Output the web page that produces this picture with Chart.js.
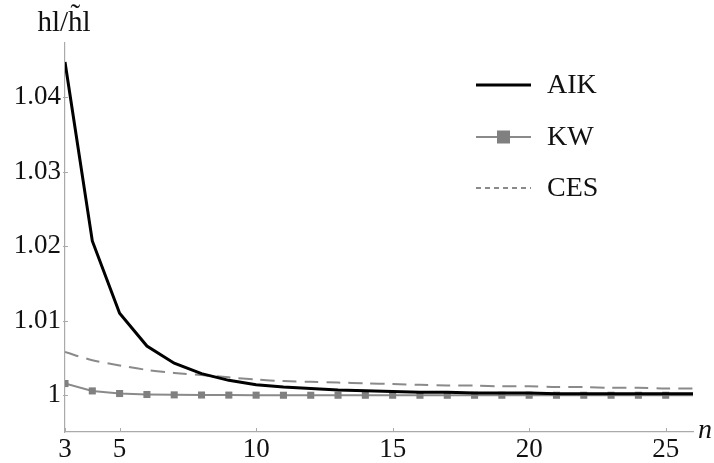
<!DOCTYPE html>
<html>
<head>
<meta charset="utf-8">
<script src="https://cdn.jsdelivr.net/npm/chart.js@4/dist/chart.umd.min.js"></script>
<style>
  html, body { margin: 0; padding: 0; background: #fff; }
  #wrap { width: 714px; height: 463px; position: relative; }
</style>
</head>
<body>
<div id="wrap"><canvas id="c" width="714" height="463"></canvas></div>
<script>
const nValues = [3,4,5,6,7,8,9,10,11,12,13,14,15,16,17,18,19,20,21,22,23,24,25,26];
const aik = [1.0447,1.0207,1.0110,1.0066,1.0043,1.0029,1.0020,1.0014,1.0011,1.0009,1.0007,1.0006,1.0005,1.0004,1.0004,1.0003,1.0003,1.0003,1.0002,1.0002,1.0002,1.0002,1.0002,1.0002];
const kw = [1.00157,1.00058,1.00023,1.0001,1.00005,1.00003,1.00002,1.00001,1.0,1.0,1.0,1.0,1.0,1.0,1.0,1.0,1.0,1.0,1.0,1.0,1.0,1.0,1.0,1.0];
const ces = [1.0058,1.0047,1.0040,1.0034,1.0030,1.0027,1.0024,1.0021,1.0019,1.0018,1.0017,1.0016,1.0015,1.0014,1.0013,1.0013,1.0012,1.0012,1.0011,1.0011,1.0010,1.0010,1.0009,1.0009];
const xTicks = [3,5,10,15,20,25];
const yTicks = [1,1.01,1.02,1.03,1.04];
const seriesNames = ["AIK","KW","CES"];

const FONT = '"Liberation Serif", "Times New Roman", "DejaVu Serif", serif';

function pts(ys) {
    return nValues.map((n, i) => ({ x: n, y: ys[i] }));
}

// markers on KW only up to n = 25
const kwRadius = nValues.map(n => n <= 25 ? 5 : 0);

const extras = {
    id: "extras",
    afterDraw(chart) {
        const ctx = chart.ctx;
        const xs = chart.scales.x, ys = chart.scales.y;
        const area = chart.chartArea;
        ctx.save();
        // small inside tick marks
        ctx.strokeStyle = "#aaa";
        ctx.lineWidth = 1;
        xTicks.forEach(v => {
            const px = Math.round(xs.getPixelForValue(v)) + 0.5;
            ctx.beginPath();
            ctx.moveTo(px, area.bottom);
            ctx.lineTo(px, area.bottom - 4);
            ctx.stroke();
        });
        yTicks.forEach(v => {
            const py = Math.round(ys.getPixelForValue(v)) + 0.5;
            ctx.beginPath();
            ctx.moveTo(area.left - 2, py);
            ctx.lineTo(area.left + 3, py);
            ctx.stroke();
        });

        // axis titles
        ctx.fillStyle = "#111";
        ctx.font = "29px " + FONT;
        ctx.textAlign = "center";
        ctx.textBaseline = "alphabetic";
        ctx.fillText("hl/h\u0303l", 64, 31);
        ctx.font = "italic 28px " + FONT;
        ctx.textAlign = "left";
        ctx.fillText("n", 698, 438);

        // legend
        const ds = chart.data.datasets;
        const rowsY = [85, 137, 188];
        const x0 = 476, x1 = 531;
        ds.forEach((d, i) => {
            const y = rowsY[i];
            ctx.strokeStyle = d.borderColor;
            ctx.lineWidth = d.borderWidth;
            ctx.setLineDash(i === 2 ? [5, 4] : []);
            ctx.beginPath();
            ctx.moveTo(x0, y);
            ctx.lineTo(x1, y);
            ctx.stroke();
            ctx.setLineDash([]);
            if (i === 1) {
                ctx.fillStyle = d.pointBackgroundColor;
                ctx.fillRect((x0 + x1) / 2 - 6.5, y - 6.5, 13, 13);
            }
            ctx.fillStyle = "#111";
            ctx.font = "28px " + FONT;
            ctx.textAlign = "left";
            ctx.textBaseline = "middle";
            ctx.fillText(seriesNames[i], 547, y + 1);
        });
        ctx.restore();
    }
};

new Chart(document.getElementById("c"), {
    type: "line",
    data: {
        datasets: [
            {
                label: seriesNames[0],
                data: pts(aik),
                borderColor: "#000",
                borderWidth: 3,
                pointRadius: 0,
                tension: 0,
                order: 1
            },
            {
                label: seriesNames[1],
                data: pts(kw),
                borderColor: "#8a8a8a",
                borderWidth: 2,
                pointStyle: "rect",
                pointRadius: kwRadius,
                pointBackgroundColor: "#808080",
                pointBorderWidth: 0,
                tension: 0,
                order: 2
            },
            {
                label: seriesNames[2],
                data: pts(ces),
                borderColor: "#8a8a8a",
                borderWidth: 2,
                borderDash: [14, 8],
                pointRadius: 0,
                tension: 0.3,
                order: 3
            }
        ]
    },
    options: {
        responsive: false,
        animation: false,
        layout: { padding: { top: 43, right: 21, left: 0, bottom: 0 } },
        plugins: { legend: { display: false }, tooltip: { enabled: false } },
        scales: {
            x: {
                type: "linear",
                min: 3,
                max: 26,
                afterBuildTicks: s => { s.ticks = xTicks.map(v => ({ value: v })); },
                afterFit: s => { s.height = 31; },
                grid: { display: false, drawTicks: false },
                border: { color: "#aaa", width: 1.2 },
                ticks: { color: "#111", font: { family: FONT, size: 27 }, padding: 2, maxRotation: 0 }
            },
            y: {
                type: "linear",
                min: 0.99507,
                max: 1.04725,
                afterBuildTicks: s => { s.ticks = yTicks.map(v => ({ value: v })); },
                afterFit: s => { s.width = 65; },
                grid: { display: false, drawTicks: false },
                border: { color: "#aaa", width: 1.2 },
                ticks: {
                    color: "#111",
                    font: { family: FONT, size: 27 },
                    padding: 4,
                    callback: v => v === 1 ? "1" : v.toFixed(2)
                }
            }
        }
    },
    plugins: [extras]
});
</script>
</body>
</html>
